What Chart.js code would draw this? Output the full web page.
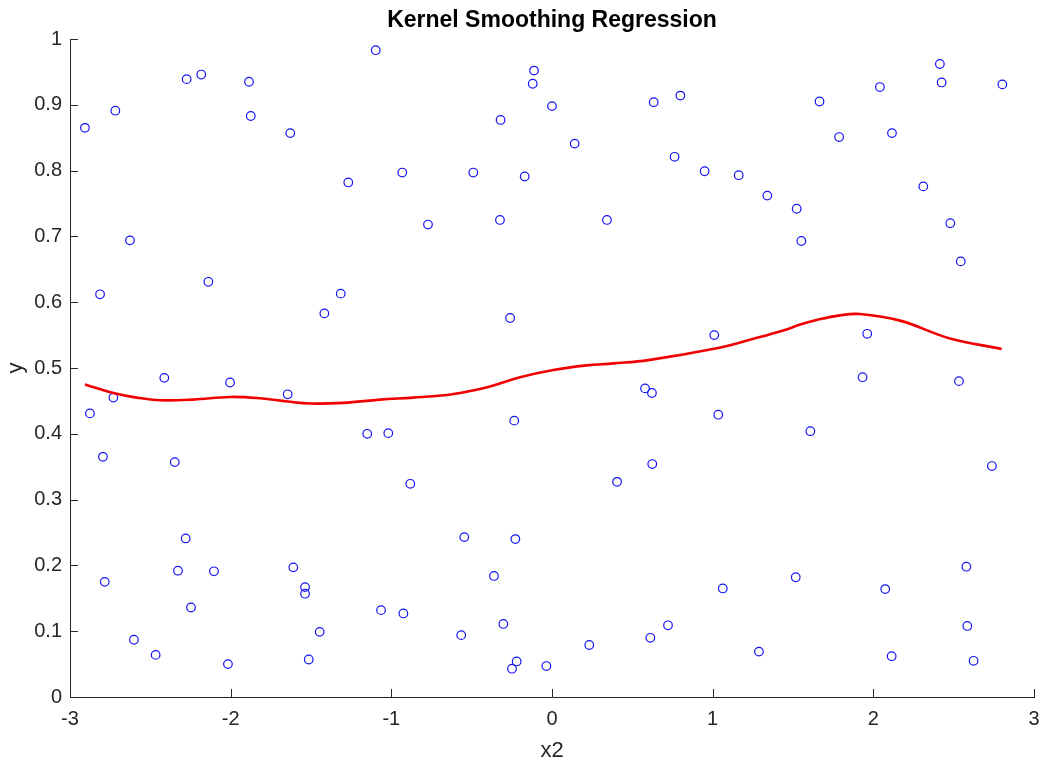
<!DOCTYPE html>
<html><head><meta charset="utf-8">
<script src="https://cdn.jsdelivr.net/npm/chart.js@4"></script>
<style>html,body{margin:0;padding:0;background:#fff;overflow:hidden}</style>
</head><body>
<canvas id="c" width="1050" height="767"></canvas>
<script>
const scatterX = [-2.907,-2.718,-2.274,-2.183,-1.886,-1.875,-1.629,-1.097,-1.268,-2.627,-2.139,-2.813,-1.315,-1.417,
  -2.730,-2.876,-2.413,-2.004,-1.645,-1.150,-1.019,-2.795,-2.348,-2.280,-2.328,-2.104,-2.784,-1.610,-1.537,-1.537,-2.247,-1.064,-1.446,-2.602,-2.467,-2.017,-1.514,
  -0.112,-0.120,0.000,-0.320,0.633,0.799,0.141,-0.932,-0.490,-0.170,0.763,0.950,-0.772,-0.324,0.342,-0.261,
  0.579,0.622,-0.235,-0.882,0.405,0.624,-0.546,-0.228,-0.361,-0.925,-0.303,-0.565,0.722,0.612,0.232,-0.220,-0.249,-0.035,
  2.414,2.425,2.803,2.041,1.665,1.787,2.116,1.162,1.340,1.523,1.552,2.311,2.479,2.544,1.010,1.962,
  1.933,2.533,1.035,1.608,2.738,2.579,1.063,1.517,2.074,2.585,1.288,2.114,2.624];
const scatterY = [0.865,0.891,0.939,0.946,0.935,0.883,0.857,0.983,0.782,0.694,0.631,0.612,0.613,0.583,
  0.455,0.431,0.485,0.478,0.460,0.400,0.401,0.365,0.357,0.241,0.192,0.191,0.175,0.197,0.167,0.157,0.136,0.132,0.099,0.087,0.064,0.050,0.057,
  0.952,0.932,0.898,0.877,0.904,0.914,0.841,0.797,0.797,0.791,0.821,0.799,0.718,0.725,0.725,0.576,
  0.469,0.462,0.420,0.324,0.327,0.354,0.243,0.240,0.184,0.127,0.111,0.094,0.109,0.090,0.079,0.054,0.043,0.047,
  0.962,0.934,0.931,0.927,0.905,0.851,0.857,0.793,0.762,0.742,0.693,0.776,0.720,0.662,0.550,0.552,
  0.486,0.480,0.429,0.404,0.351,0.198,0.165,0.182,0.164,0.108,0.069,0.062,0.055];
const curveX = [-2.907,-2.730,-2.585,-2.440,-2.233,-2.004,-1.817,-1.645,-1.506,-1.299,-1.071,-0.863,-0.655,-0.531,-0.386,-0.199,0.008,0.216,0.382,0.600,1.025,1.232,1.440,1.544,1.647,1.792,1.917,2.166,2.477,2.799];
const curveY = [0.475,0.462,0.455,0.451,0.452,0.456,0.454,0.449,0.446,0.447,0.452,0.455,0.459,0.464,0.472,0.486,0.497,0.504,0.507,0.512,0.530,0.543,0.557,0.566,0.573,0.580,0.582,0.572,0.545,0.529];
const xTickValues = [-3,-2,-1,0,1,2,3];
const yTickValues = [0,0.1,0.2,0.3,0.4,0.5,0.6,0.7,0.8,0.9,1];
const chartTitle = 'Kernel Smoothing Regression';
const xTitle = 'x2';
const yTitle = 'y';

const axisColor = '#262626';
const FONT = '"Liberation Sans", Arial, Helvetica, sans-serif';

const inwardTicks = {
  id: 'inwardTicks',
  afterDraw(chart) {
    const {ctx, chartArea: a} = chart;
    const x = chart.scales.x, y = chart.scales.y;
    ctx.save();
    ctx.strokeStyle = axisColor; ctx.lineWidth = 1;
    ctx.beginPath();
    x.ticks.forEach(t => { const px = Math.round(x.getPixelForValue(t.value)) + 0.5; ctx.moveTo(px, a.bottom); ctx.lineTo(px, a.bottom - 8); });
    y.ticks.forEach(t => { const py = Math.round(y.getPixelForValue(t.value)) + 0.5; ctx.moveTo(a.left, py); ctx.lineTo(a.left + 8, py); });
    ctx.stroke();
    ctx.restore();
  }
};

new Chart(document.getElementById('c'), {
  type: 'scatter',
  data: {
    datasets: [
      {
        label: 'data',
        data: scatterX.map((v, i) => ({x: v, y: scatterY[i]})),
        pointStyle: 'circle',
        pointRadius: 4.3,
        pointBorderWidth: 1.2,
        pointBorderColor: 'rgb(20,20,245)',
        pointBackgroundColor: 'rgba(0,0,0,0)',
        showLine: false,
        order: 2
      },
      {
        label: 'smooth',
        data: curveX.map((v, i) => ({x: v, y: curveY[i]})),
        showLine: true,
        borderColor: 'rgb(240,0,0)',
        borderWidth: 2.6,
        pointRadius: 0,
        tension: 0.4,
        fill: false,
        order: 1
      }
    ]
  },
  options: {
    responsive: false,
    animation: false,
    layout: {padding: {left: 0, right: 16, top: 0, bottom: 0}},
    plugins: {
      legend: {display: false},
      tooltip: {enabled: false},
      title: {
        display: true, text: chartTitle, color: '#000', fullSize: false,
        font: {family: FONT, size: 23, weight: 'bold', lineHeight: 1.2},
        padding: {top: 7, bottom: 4.4}
      }
    },
    scales: {
      x: {
        type: 'linear', min: -3, max: 3,
        afterBuildTicks: s => { s.ticks = xTickValues.map(v => ({value: v})); },
        afterFit: s => { s.height = 70; },
        grid: {display: false, drawTicks: false},
        border: {display: true, color: axisColor, width: 1},
        ticks: {color: axisColor, font: {family: FONT, size: 20}, padding: 10, callback: v => String(v), maxRotation: 0},
        title: {display: true, text: xTitle, color: axisColor, font: {family: FONT, size: 22, lineHeight: 1.2}, padding: {top: 0, bottom: 3}}
      },
      y: {
        type: 'linear', min: 0, max: 1,
        afterBuildTicks: s => { s.ticks = yTickValues.map(v => ({value: v})); },
        afterFit: s => { s.width = 70; },
        grid: {display: false, drawTicks: false},
        border: {display: true, color: axisColor, width: 1},
        ticks: {color: axisColor, font: {family: FONT, size: 20}, padding: 8, callback: v => String(v)},
        title: {display: true, text: yTitle, color: axisColor, font: {family: FONT, size: 22, lineHeight: 1.2}, padding: {top: 3, bottom: 0}}
      }
    }
  },
  plugins: [inwardTicks]
});
</script>
</body></html>
